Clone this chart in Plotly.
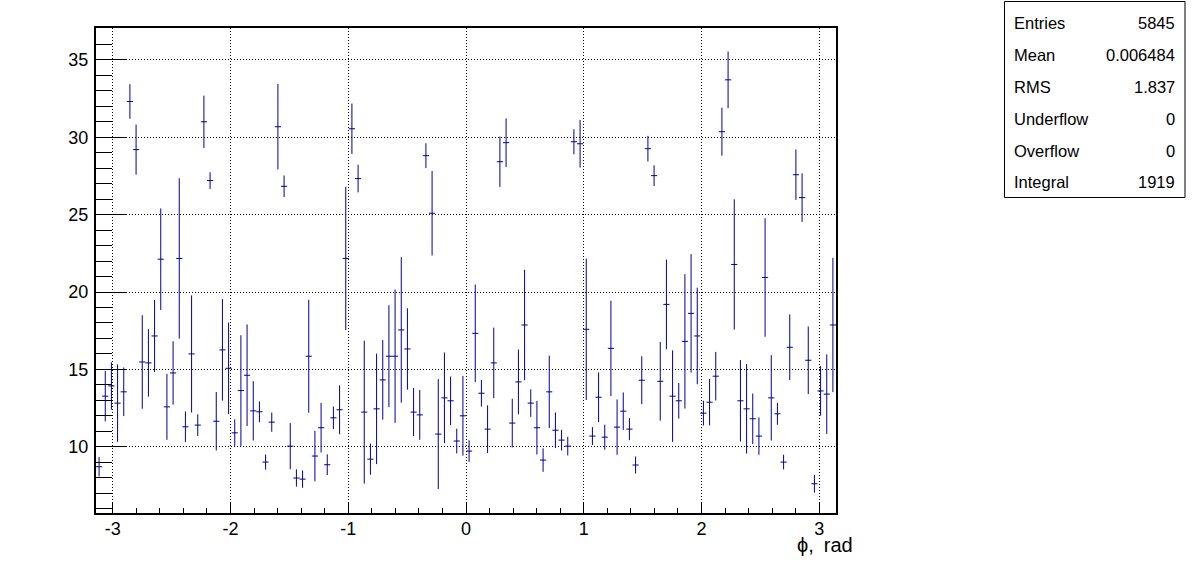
import numpy as np
import plotly.graph_objects as go

# Histogram: 120 bins over [-pi, pi]
n_bins = 120
phi_min, phi_max = -np.pi, np.pi

counts = [8.71, 13.27, 13.93, 12.82, 13.55, 32.31, 29.20, 15.48, 15.42, 17.16,
          22.12, 12.58, 14.77, 22.17, 11.29, 16.00, 11.40, 31.00, 27.20, 11.65,
          16.26, 15.07, 10.90, 13.63, 14.62, 12.32, 12.26, 9.01, 11.59, 30.68,
          26.83, 10.04, 7.98, 7.91, 15.85, 9.40, 11.23, 8.84, 11.87, 12.39,
          22.17, 30.55, 27.33, 12.24, 9.20, 12.45, 14.32, 15.85, 15.85, 17.55,
          16.32, 12.24, 12.06, 28.81, 25.09, 10.82, 13.16, 12.97, 10.37, 12.00,
          9.72, 17.33, 13.46, 11.14, 15.42, 28.42, 29.65, 11.53, 14.19, 17.87,
          12.82, 11.23, 9.14, 13.55, 11.07, 10.43, 10.04, 29.71, 29.58, 17.59,
          10.69, 13.20, 10.62, 16.36, 11.27, 12.30, 11.14, 8.82, 14.30, 29.26,
          27.52, 14.23, 19.20, 13.27, 12.97, 16.81, 18.62, 17.16, 12.17, 12.88,
          14.56, 30.36, 33.71, 21.78, 12.97, 12.45, 11.81, 10.69, 20.94, 13.16,
          12.13, 9.01, 16.43, 27.58, 26.10, 15.59, 7.61, 13.61, 13.40, 17.87]

errors = [0.63, 1.63, 1.53, 2.50, 1.57, 1.12, 1.62, 3.02, 2.18, 2.33,
          3.28, 2.13, 2.05, 5.18, 0.99, 3.78, 0.70, 1.69, 0.54, 1.89,
          3.28, 2.96, 0.87, 3.58, 3.28, 1.92, 0.67, 0.49, 0.62, 2.76,
          0.70, 1.49, 0.56, 0.56, 3.65, 1.63, 1.60, 0.67, 0.73, 1.58,
          4.63, 1.63, 0.89, 4.62, 1.01, 3.57, 2.57, 3.29, 4.31, 4.70,
          2.63, 1.55, 1.61, 0.80, 2.73, 3.55, 2.93, 1.57, 0.80, 2.57,
          0.70, 3.15, 0.86, 1.54, 2.28, 1.63, 1.57, 1.57, 2.09, 3.57,
          0.89, 1.73, 0.76, 2.34, 1.15, 0.67, 0.60, 0.81, 1.54, 4.57,
          0.58, 1.61, 0.81, 3.08, 1.79, 1.21, 0.71, 0.55, 1.55, 0.83,
          0.67, 2.54, 2.90, 2.96, 1.15, 4.34, 3.83, 3.12, 0.80, 1.50,
          1.57, 1.55, 1.83, 4.21, 2.63, 2.89, 1.63, 1.21, 3.83, 2.76,
          0.71, 0.47, 2.12, 1.63, 1.57, 2.18, 0.57, 1.60, 2.57, 4.34]

stat_labels = ["Entries", "Mean", "RMS", "Underflow", "Overflow", "Integral"]
stat_values = ["5845", "0.006484", "1.837", "0", "0", "1919"]

x_tick_vals = [-3, -2, -1, 0, 1, 2, 3]
y_tick_vals = [10, 15, 20, 25, 30, 35]

bin_w = (phi_max - phi_min) / n_bins
centers = phi_min + (np.arange(n_bins) + 0.5) * bin_w

LINE = "#000099"
FONT = "Liberation Sans, Arial, Helvetica, sans-serif"

fig = go.Figure()
fig.add_trace(go.Scatter(
    x=centers, y=counts, mode="markers",
    marker=dict(size=1, color=LINE, opacity=0),
    error_x=dict(type="constant", value=bin_w / 2, width=0, thickness=1, color=LINE),
    error_y=dict(type="data", array=errors, symmetric=True, width=0, thickness=1, color=LINE),
    showlegend=False, hoverinfo="skip", cliponaxis=True,
))

W, H = 1196, 572
L, R, T, B = 96, 360, 28, 59
pw, ph = W - L - R, H - T - B

def px_x(px):
    return (px - L) / pw

def px_y(py):
    return (H - B - py) / ph

axis_common = dict(
    showline=True, linecolor="black", linewidth=2, mirror=True,
    showgrid=True, gridcolor="black", gridwidth=1, griddash="1px,2px",
    zeroline=False, ticks="inside", tickcolor="black", tickwidth=1,
    tickfont=dict(family=FONT, size=18, color="black"),
)

fig.update_xaxes(
    range=[phi_min, phi_max], tickmode="array", tickvals=x_tick_vals,
    ticktext=[str(v) for v in x_tick_vals], ticklen=10,
    minor=dict(ticks="inside", ticklen=5, dtick=0.2, tick0=0, tickcolor="black", showgrid=False),
    ticklabelstandoff=-2,
    **axis_common,
)
fig.update_yaxes(
    range=[5.72, 37.06], tickmode="array", tickvals=y_tick_vals,
    ticktext=[str(v) for v in y_tick_vals], ticklen=31,
    minor=dict(ticks="inside", ticklen=16, dtick=1, tick0=0, tickcolor="black", showgrid=False),
    ticklabelstandoff=2,
    **axis_common,
)

annotations = [
    dict(text="\u03d5,\u2002rad", x=px_x(855), y=px_y(545), xref="paper", yref="paper",
         xanchor="right", yanchor="middle", showarrow=False,
         font=dict(family=FONT, size=20, color="black")),
]
row0, drow = 23.3, 31.8
for i, (lab, val) in enumerate(zip(stat_labels, stat_values)):
    yy = px_y(row0 + i * drow)
    annotations.append(dict(text=lab, x=px_x(1012), y=yy, xref="paper", yref="paper",
                            xanchor="left", yanchor="middle", showarrow=False,
                            font=dict(family=FONT, size=16.5, color="black")))
    annotations.append(dict(text=val, x=px_x(1177), y=yy, xref="paper", yref="paper",
                            xanchor="right", yanchor="middle", showarrow=False,
                            font=dict(family=FONT, size=16.5, color="black")))

fig.update_layout(
    width=W, height=H,
    margin=dict(l=L, r=R, t=T, b=B, pad=0),
    paper_bgcolor="white", plot_bgcolor="white",
    annotations=annotations,
    shapes=[dict(type="rect", xref="paper", yref="paper",
                 x0=px_x(1004.5), x1=px_x(1185), y0=px_y(197.5), y1=px_y(1.5),
                 line=dict(color="black", width=1), fillcolor="white", layer="above")],
)

fig.write_html("out.html", config={"displayModeBar": False},
               post_script="document.body.style.margin='0';document.body.style.padding='0';")
